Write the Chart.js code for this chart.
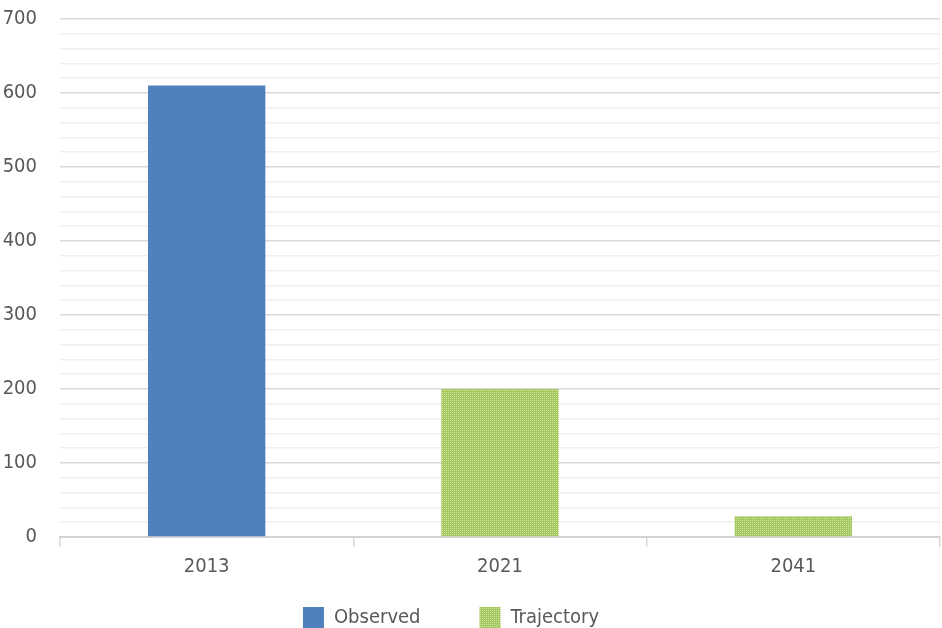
<!DOCTYPE html>
<html>
<head>
<meta charset="utf-8">
<script src="https://cdn.jsdelivr.net/npm/chart.js@4/dist/chart.umd.min.js"></script>
<style>
  html, body { margin: 0; padding: 0; background: #fff; overflow: hidden; width: 942px; height: 628px; }
  #chart { display: block; margin-left: -38px; }
</style>
</head>
<body>
<canvas id="chart" width="980" height="638"></canvas>
<script>
const years = ["2013", "2021", "2041"];
const observed = [610, null, null];
const trajectory = [null, 200, 28];
const yTicks = [0, 100, 200, 300, 400, 500, 600, 700];

const FONT = "'Liberation Sans Narrow', 'DejaVu Sans Condensed', 'Open Sans', sans-serif";
const TEXT = "#595959";

// dotted green fill like the spreadsheet pattern
function greenPattern() {
    const c = document.createElement("canvas");
    c.width = 4;
    c.height = 4;
    const g = c.getContext("2d");
    g.fillStyle = "#a5c95f";
    g.fillRect(0, 0, 4, 4);
    g.fillStyle = "#d9eab5";
    g.fillRect(0, 0, 1, 1);
    g.fillRect(2, 2, 1, 1);
    g.fillStyle = "#bfdb8a";
    g.fillRect(2, 0, 1, 1);
    g.fillRect(0, 2, 1, 1);
    return g.createPattern(c, "repeat");
}

// x labels are clipped to the axis box, let them use the space down to the legend
const xLabelRoom = {
    id: "xLabelRoom",
    afterLayout(chart) {
        chart.scales.x.bottom = chart.height;
    }
};

const green = greenPattern();
const ctx = document.getElementById("chart").getContext("2d");

const chart = new Chart(ctx, {
    type: "bar",
    data: {
        labels: years,
        datasets: [
            { label: "Observed", data: observed, backgroundColor: "#4f81bd", borderWidth: 0 },
            { label: "Trajectory", data: trajectory, backgroundColor: green, borderWidth: 0 }
        ]
    },
    plugins: [xLabelRoom],
    options: {
        responsive: false,
        animation: false,
        devicePixelRatio: 1,
        grouped: false,
        barPercentage: 0.4,
        categoryPercentage: 1,
        layout: { padding: { top: 19, right: 2, bottom: 0, left: 0 } },
        plugins: {
            tooltip: { enabled: false },
            legend: {
                position: "bottom",
                labels: {
                    boxWidth: 21,
                    boxHeight: 21,
                    padding: 59,
                    color: TEXT,
                    font: { family: FONT, size: 20 }
                }
            }
        },
        scales: {
            x: {
                offset: true,
                grid: {
                    offset: true,
                    drawOnChartArea: false,
                    drawTicks: true,
                    tickLength: 10,
                    color: "#d9d9d9",
                    lineWidth: 1.5
                },
                border: { display: true, color: "#d4d4d4", width: 2 },
                ticks: { color: TEXT, padding: 8, font: { family: FONT, size: 20 } },
                afterFit: scale => { scale.height = 11; }
            },
            y: {
                min: 0,
                max: 700,
                grid: {
                    drawTicks: false,
                    color: c => (c.tick && c.tick.value % 100 === 0) ? "#d9d9d9" : "#efefef",
                    lineWidth: 1.5
                },
                border: { display: false },
                ticks: {
                    stepSize: 20,
                    autoSkip: false,
                    color: TEXT,
                    padding: 23,
                    font: { family: FONT, size: 20 },
                    callback: v => yTicks.includes(v) ? String(v) : ""
                },
                afterFit: scale => {
                    scale.width = 98;
                    scale.paddingTop = 0;
                    scale.paddingBottom = 0;
                }
            }
        }
    }
});
</script>
</body>
</html>
